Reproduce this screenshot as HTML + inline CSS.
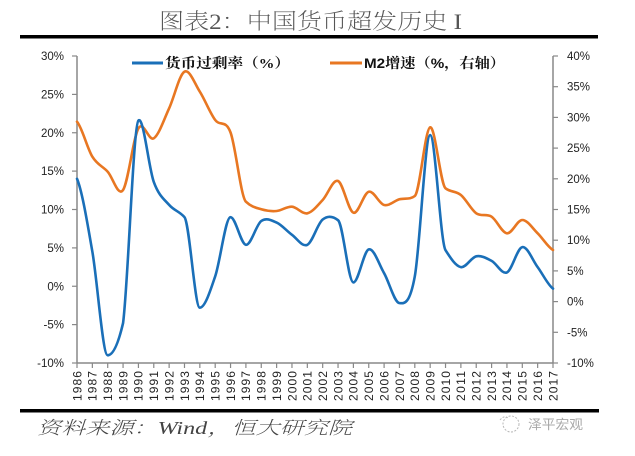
<!DOCTYPE html>
<html><head><meta charset="utf-8">
<style>
html,body{margin:0;padding:0;background:#fff;}
svg{display:block;}
</style></head>
<body>
<svg width="635" height="456" viewBox="0 0 635 456" xmlns="http://www.w3.org/2000/svg">
<rect x="0" y="0" width="635" height="456" fill="#fff"/>
<!-- title -->
<text x="159" y="29" font-family="'Liberation Serif','Noto Serif CJK SC',serif" font-weight="200" font-size="22" fill="#555" textLength="303" lengthAdjust="spacingAndGlyphs">图表2：中国货币超发历史 I</text>
<rect x="20" y="35" width="578" height="3.5" fill="#000"/>

<!-- legend -->
<line x1="132" y1="63" x2="163" y2="63" stroke="#1a6fb8" stroke-width="3"/>
<text x="165" y="68" font-family="'Liberation Serif','Noto Serif CJK SC',serif" font-weight="bold" font-size="14" fill="#111" textLength="125" lengthAdjust="spacingAndGlyphs">货币过剩率（%）</text>
<line x1="330" y1="63" x2="362" y2="63" stroke="#e87722" stroke-width="3"/>
<text x="364" y="68" font-family="'Liberation Sans','Noto Serif CJK SC',sans-serif" font-weight="bold" font-size="14" fill="#111" textLength="141" lengthAdjust="spacingAndGlyphs">M2增速（%，右轴）</text>

<!-- axes -->
<g stroke="#888" stroke-width="1.5" fill="none">
<line x1="77" y1="56" x2="77" y2="363"/>
<line x1="553" y1="56" x2="553" y2="363"/>
<line x1="77" y1="363" x2="553" y2="363"/>
</g>
<g stroke="#888" stroke-width="1.2">
<line x1="72" y1="56" x2="77" y2="56"/>
<line x1="72" y1="94.4" x2="77" y2="94.4"/>
<line x1="72" y1="132.75" x2="77" y2="132.75"/>
<line x1="72" y1="171.1" x2="77" y2="171.1"/>
<line x1="72" y1="209.5" x2="77" y2="209.5"/>
<line x1="72" y1="247.9" x2="77" y2="247.9"/>
<line x1="72" y1="286.25" x2="77" y2="286.25"/>
<line x1="72" y1="324.6" x2="77" y2="324.6"/>
<line x1="72" y1="363" x2="77" y2="363"/>
<line x1="553" y1="56" x2="558" y2="56"/>
<line x1="553" y1="86.7" x2="558" y2="86.7"/>
<line x1="553" y1="117.4" x2="558" y2="117.4"/>
<line x1="553" y1="148.1" x2="558" y2="148.1"/>
<line x1="553" y1="178.8" x2="558" y2="178.8"/>
<line x1="553" y1="209.5" x2="558" y2="209.5"/>
<line x1="553" y1="240.2" x2="558" y2="240.2"/>
<line x1="553" y1="270.9" x2="558" y2="270.9"/>
<line x1="553" y1="301.6" x2="558" y2="301.6"/>
<line x1="553" y1="332.3" x2="558" y2="332.3"/>
<line x1="553" y1="363" x2="558" y2="363"/>
</g>
<g stroke="#888" stroke-width="1.2">
<line x1="77" y1="363" x2="77" y2="368"/><line x1="92.36" y1="363" x2="92.36" y2="368"/><line x1="107.71" y1="363" x2="107.71" y2="368"/><line x1="123.07" y1="363" x2="123.07" y2="368"/><line x1="138.42" y1="363" x2="138.42" y2="368"/><line x1="153.78" y1="363" x2="153.78" y2="368"/><line x1="169.13" y1="363" x2="169.13" y2="368"/><line x1="184.49" y1="363" x2="184.49" y2="368"/><line x1="199.84" y1="363" x2="199.84" y2="368"/><line x1="215.2" y1="363" x2="215.2" y2="368"/><line x1="230.55" y1="363" x2="230.55" y2="368"/><line x1="245.91" y1="363" x2="245.91" y2="368"/><line x1="261.26" y1="363" x2="261.26" y2="368"/><line x1="276.62" y1="363" x2="276.62" y2="368"/><line x1="291.97" y1="363" x2="291.97" y2="368"/><line x1="307.33" y1="363" x2="307.33" y2="368"/><line x1="322.68" y1="363" x2="322.68" y2="368"/><line x1="338.04" y1="363" x2="338.04" y2="368"/><line x1="353.39" y1="363" x2="353.39" y2="368"/><line x1="368.75" y1="363" x2="368.75" y2="368"/><line x1="384.1" y1="363" x2="384.1" y2="368"/><line x1="399.46" y1="363" x2="399.46" y2="368"/><line x1="414.81" y1="363" x2="414.81" y2="368"/><line x1="430.17" y1="363" x2="430.17" y2="368"/><line x1="445.52" y1="363" x2="445.52" y2="368"/><line x1="460.88" y1="363" x2="460.88" y2="368"/><line x1="476.23" y1="363" x2="476.23" y2="368"/><line x1="491.59" y1="363" x2="491.59" y2="368"/><line x1="506.94" y1="363" x2="506.94" y2="368"/><line x1="522.3" y1="363" x2="522.3" y2="368"/><line x1="537.65" y1="363" x2="537.65" y2="368"/><line x1="553" y1="363" x2="553" y2="368"/>
</g>

<!-- left labels -->
<g font-family="'Liberation Sans',sans-serif" font-size="11.5" fill="#222" text-anchor="end">
<text x="64" y="60">30%</text>
<text x="64" y="98.4">25%</text>
<text x="64" y="136.75">20%</text>
<text x="64" y="175.1">15%</text>
<text x="64" y="213.5">10%</text>
<text x="64" y="251.9">5%</text>
<text x="64" y="290.25">0%</text>
<text x="64" y="328.6">-5%</text>
<text x="64" y="367">-10%</text>
</g>
<!-- right labels -->
<g font-family="'Liberation Sans',sans-serif" font-size="11.5" fill="#222" text-anchor="start">
<text x="567" y="60">40%</text>
<text x="567" y="90.7">35%</text>
<text x="567" y="121.4">30%</text>
<text x="567" y="152.1">25%</text>
<text x="567" y="182.8">20%</text>
<text x="567" y="213.5">15%</text>
<text x="567" y="244.2">10%</text>
<text x="567" y="274.9">5%</text>
<text x="567" y="305.6">0%</text>
<text x="567" y="336.3">-5%</text>
<text x="567" y="367">-10%</text>
</g>

<!-- x labels -->
<g font-family="'Liberation Sans',sans-serif" font-size="12" fill="#222" text-anchor="end">
<text transform="translate(81.3,371) rotate(-90)" textLength="30">1986</text>
<text transform="translate(96.66,371) rotate(-90)" textLength="30">1987</text>
<text transform="translate(112.01,371) rotate(-90)" textLength="30">1988</text>
<text transform="translate(127.37,371) rotate(-90)" textLength="30">1989</text>
<text transform="translate(142.72,371) rotate(-90)" textLength="30">1990</text>
<text transform="translate(158.08,371) rotate(-90)" textLength="30">1991</text>
<text transform="translate(173.43,371) rotate(-90)" textLength="30">1992</text>
<text transform="translate(188.79,371) rotate(-90)" textLength="30">1993</text>
<text transform="translate(204.14,371) rotate(-90)" textLength="30">1994</text>
<text transform="translate(219.5,371) rotate(-90)" textLength="30">1995</text>
<text transform="translate(234.85,371) rotate(-90)" textLength="30">1996</text>
<text transform="translate(250.21,371) rotate(-90)" textLength="30">1997</text>
<text transform="translate(265.56,371) rotate(-90)" textLength="30">1998</text>
<text transform="translate(280.92,371) rotate(-90)" textLength="30">1999</text>
<text transform="translate(296.27,371) rotate(-90)" textLength="30">2000</text>
<text transform="translate(311.63,371) rotate(-90)" textLength="30">2001</text>
<text transform="translate(326.98,371) rotate(-90)" textLength="30">2002</text>
<text transform="translate(342.34,371) rotate(-90)" textLength="30">2003</text>
<text transform="translate(357.69,371) rotate(-90)" textLength="30">2004</text>
<text transform="translate(373.05,371) rotate(-90)" textLength="30">2005</text>
<text transform="translate(388.4,371) rotate(-90)" textLength="30">2006</text>
<text transform="translate(403.76,371) rotate(-90)" textLength="30">2007</text>
<text transform="translate(419.11,371) rotate(-90)" textLength="30">2008</text>
<text transform="translate(434.47,371) rotate(-90)" textLength="30">2009</text>
<text transform="translate(449.82,371) rotate(-90)" textLength="30">2010</text>
<text transform="translate(465.18,371) rotate(-90)" textLength="30">2011</text>
<text transform="translate(480.53,371) rotate(-90)" textLength="30">2012</text>
<text transform="translate(495.89,371) rotate(-90)" textLength="30">2013</text>
<text transform="translate(511.24,371) rotate(-90)" textLength="30">2014</text>
<text transform="translate(526.6,371) rotate(-90)" textLength="30">2015</text>
<text transform="translate(541.95,371) rotate(-90)" textLength="30">2016</text>
<text transform="translate(557.3,371) rotate(-90)" textLength="30">2017</text>
</g>

<!-- orange series (right axis) -->
<path fill="none" stroke="#e87722" stroke-width="2.6" stroke-linejoin="round" stroke-linecap="round" d="M77,121.7
C82.12,127.53 87.24,148.37 92.36,156.7
C97.48,165.03 102.59,166.15 107.71,171.7
C112.83,177.25 117.95,197.23 123.07,190
C128.19,182.77 133.3,136.92 138.42,128.3
C143.54,119.68 148.66,141.63 153.78,138.3
C158.9,134.97 164.01,119.4 169.13,108.3
C174.25,97.2 179.37,74.47 184.49,71.7
C189.61,68.93 194.72,83.65 199.84,91.7
C204.96,99.75 210.08,113.2 215.2,120
C220.32,126.8 225.43,118.88 230.55,132.5
C235.67,146.12 240.79,196.7 245.91,201.7
C251.03,206.7 256.14,207.75 261.26,209.3
C266.38,210.85 271.5,211.43 276.62,211
C281.74,210.57 286.85,206.32 291.97,206.7
C297.09,207.08 302.21,214.42 307.33,213.3
C312.45,212.18 317.56,205.38 322.68,200
C327.8,194.62 332.92,178.88 338.04,181
C343.16,183.12 348.27,210.92 353.39,212.7
C358.51,214.48 363.63,192.98 368.75,191.7
C373.87,190.42 378.98,203.73 384.1,205
C389.22,206.27 394.34,200.8 399.46,199.3
C404.58,197.8 409.69,200 414.81,196
C419.93,192 425.05,128.58 430.17,127.3
C435.29,126.02 440.4,184.3 445.52,188.3
C450.64,192.3 455.76,190.83 460.88,195
C466,199.17 471.11,209.68 476.23,213.3
C481.35,216.92 486.47,213.37 491.59,216.7
C496.71,220.03 501.82,232.75 506.94,233.3
C512.06,233.85 517.18,220 522.3,220
C527.42,220 532.53,228.3 537.65,233.3
C542.77,238.3 547.88,247.22 553,250"/>

<!-- blue series (left axis) -->
<path fill="none" stroke="#1a6fb8" stroke-width="2.6" stroke-linejoin="round" stroke-linecap="round" d="M77,178.8
C82.12,190.95 87.24,222.28 92.36,251.7
C97.48,281.12 102.59,355.3 107.71,355.3
C112.83,355.3 117.95,345 123.07,323.1
C128.19,283.97 133.3,125.5 138.42,120.5
C143.54,115.5 148.66,167.83 153.78,181.9
C158.9,195.97 164.01,199.02 169.13,204.9
C174.25,210.78 179.37,211.2 184.49,217.2
C189.61,223.2 194.72,307.7 199.84,307.7
C204.96,307.7 210.08,291.38 215.2,276.3
C220.32,261.22 225.43,217.2 230.55,217.2
C235.67,217.2 240.79,244.17 245.91,244.8
C251.03,245.43 256.14,224.7 261.26,221
C266.38,217.3 271.5,220.3 276.62,222.6
C281.74,224.9 286.85,231.1 291.97,234.8
C297.09,238.5 302.21,247.35 307.33,244.8
C312.45,242.25 317.56,223.6 322.68,219.5
C327.8,215.4 332.92,216.2 338.04,220.2
C343.16,224.2 348.27,282.4 353.39,282.4
C358.51,282.4 363.63,250.93 368.75,249.4
C373.87,247.87 378.98,264.25 384.1,273.2
C389.22,282.15 394.34,302.58 399.46,303.1
C404.58,303.62 409.69,304.3 414.81,276.3
C419.93,248.3 425.05,135.1 430.17,135.1
C435.29,135.1 440.4,242.2 445.52,250.2
C450.64,258.2 455.76,266.08 460.88,267.1
C466,268.12 471.11,257.33 476.23,256.3
C481.35,255.27 486.47,258.22 491.59,260.9
C496.71,263.58 501.82,274.7 506.94,272.4
C512.06,270.1 517.18,247.98 522.3,247.1
C527.42,246.22 532.53,260.18 537.65,267.1
C542.77,274.02 547.88,285.02 553,288.6"/>

<!-- bottom rule -->
<rect x="20" y="409" width="579" height="3.5" fill="#000"/>

<!-- source -->
<text x="37" y="434" font-family="'Liberation Serif','Noto Serif CJK SC',serif" font-style="italic" font-weight="200" font-size="18" fill="#444" textLength="315" lengthAdjust="spacingAndGlyphs">资料来源：Wind，恒大研究院</text>

<!-- watermark -->
<g fill="none" stroke="#b8b8b8" stroke-width="1" stroke-dasharray="2,1.5">
<circle cx="511" cy="424" r="8"/>
<path d="M500,420 q4,-5 8,-2"/>
</g>
<text x="528" y="429" font-family="'Liberation Sans','Noto Sans CJK SC',sans-serif" font-size="13" fill="#a8a8a8" textLength="55" lengthAdjust="spacingAndGlyphs">泽平宏观</text>
</svg>
</body></html>
